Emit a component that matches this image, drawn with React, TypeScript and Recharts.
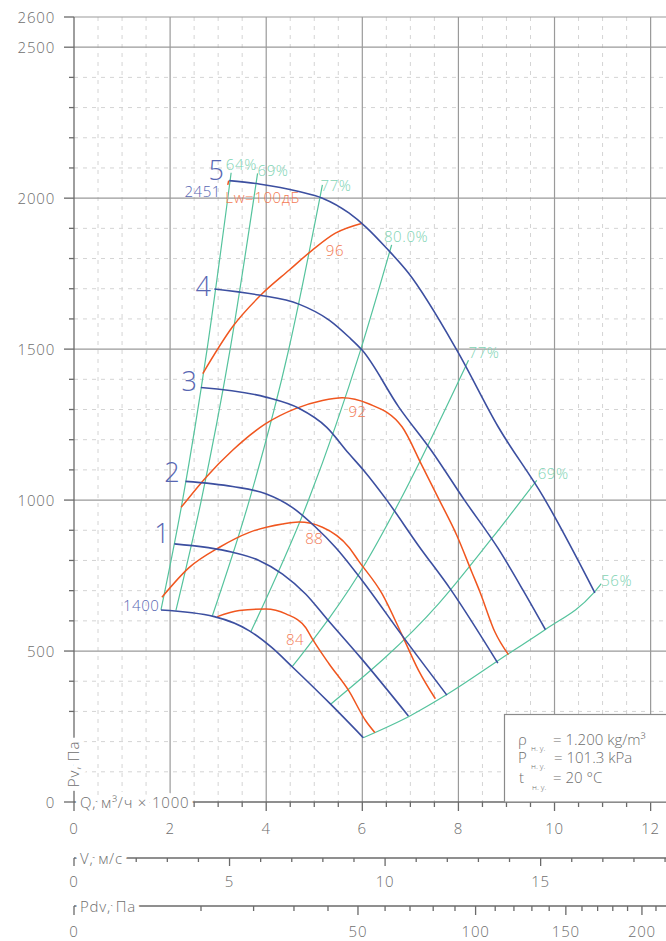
import React from 'react';
import { ComposedChart, Line, XAxis, YAxis, CartesianGrid, ReferenceDot } from 'recharts';

const FONT = '"Open Sans", "Liberation Sans", sans-serif';
const AXIS_COLOR = '#6a6a6a';
const TEXT_COLOR = '#6e6e6e';
const BLUE = '#3c4fa0';
const BLUE_TXT = '#5867b3';
const ORANGE = '#f0561f';
const ORANGE_TXT = '#f37b55';
const GREEN = '#55c39d';
const GREEN_TXT = '#7fd4b4';

// axis ids sort alphabetically in stacking order: Q nearest the plot, then V, then Pdv
const Q_AXIS = 'x1';
const V_AXIS = 'x2';
const PDV_AXIS = 'x3';

// ---- tick values ----
const qTicks = [0, 0.5, 1, 1.5, 2, 2.5, 3, 3.5, 4, 4.5, 5, 5.5, 6, 6.5, 7, 7.5, 8, 8.5, 9, 9.5, 10, 10.5, 11, 11.5, 12];
const qTickLabels = [0, 2, 4, 6, 8, 10, 12];
const vTicks = [0, 1, 2, 3, 4, 5, 6, 7, 8, 9, 10, 11, 12, 13, 14, 15, 16, 17, 18, 19];
const vTickLabels = [0, 5, 10, 15];
const pdvTicks = [0, 10, 20, 30, 40, 50, 60, 70, 80, 90, 100, 110, 120, 130, 140, 150, 160, 170, 180, 190, 200, 210];
const pdvTickLabels = [0, 50, 100, 150, 200];
const pTicks = [0, 100, 200, 300, 400, 500, 600, 700, 800, 900, 1000, 1100, 1200, 1300, 1400, 1500, 1600, 1700, 1800, 1900, 2000, 2100, 2200, 2300, 2400, 2500, 2600];
const pTickLabels = [0, 500, 1000, 1500, 2000, 2500, 2600];

const qDomain: [number, number] = [0, 12.32];
const vDomain: [number, number] = [0, 19.03];
const pdvDomain: [number, number] = [0, 217.3];
const pDomain: [number, number] = [0, 2600];

const qGridSolid = [2, 4, 6, 8, 10, 12];
const qGridDashed = qTicks.filter((v) => v !== 0 && !qGridSolid.includes(v));
const pGridSolid = [500, 1000, 1500, 2000, 2500, 2600];
const pGridDashed = pTicks.filter((v) => v !== 0 && !pGridSolid.includes(v));

// range extents of the secondary scales (invisible, only to give those axes a data extent)
const vExtent = [{ v: 0, p: 0 }, { v: 19, p: 0 }];
const pdvExtent = [{ pdv: 0, p: 0 }, { pdv: 217, p: 0 }];

// ---- fan curves [Q (x1000 m3/h), Pv (Pa)] ----
type Pt = [number, number];
const rpm1400: Pt[] = [[1.81, 636], [2.92, 614], [3.65, 567], [4.12, 511], [4.54, 448], [5.34, 324], [6.02, 213]];
const curve1: Pt[] = [[2.09, 855], [3.30, 827], [3.85, 800], [4.34, 755], [4.82, 689], [5.26, 607], [5.96, 479], [6.96, 285]];
const curve2: Pt[] = [[2.32, 1062], [3.30, 1045], [3.99, 1021], [4.54, 976], [5.03, 910], [5.44, 844], [6.0, 733], [6.83, 551], [7.76, 354]];
const curve3: Pt[] = [[2.64, 1373], [3.99, 1341], [4.68, 1304], [5.26, 1241], [5.72, 1154], [6.03, 1098], [6.49, 1004], [7.17, 849], [7.83, 706], [8.82, 460]];
const curve4: Pt[] = [[2.92, 1699], [3.85, 1679], [4.68, 1649], [5.31, 1596], [5.72, 1540], [6.0, 1496], [6.76, 1308], [7.45, 1161], [8.13, 999], [8.83, 839], [9.35, 700], [9.81, 571]];
const curve5: Pt[] = [[3.23, 2058], [3.85, 2047], [4.68, 2022], [5.17, 2000], [5.72, 1951], [6.07, 1905], [6.5, 1835], [6.96, 1752], [7.97, 1496], [8.83, 1242], [9.77, 1010], [10.84, 693]];

// ---- noise level curves (Lw, dB) ----
const lw84: Pt[] = [[2.98, 614], [3.44, 634], [3.99, 639], [4.41, 623], [4.82, 578], [4.96, 540], [5.31, 457], [5.72, 368], [6.07, 269], [6.26, 230]];
const lw88: Pt[] = [[1.83, 678], [2.40, 777], [3.02, 843], [3.65, 893], [4.34, 921], [4.68, 927], [5.17, 910], [5.72, 844], [5.93, 797], [6.41, 690], [6.83, 552], [7.17, 436], [7.52, 342]];
const lw92: Pt[] = [[2.23, 976], [2.75, 1076], [3.30, 1165], [3.99, 1253], [4.61, 1303], [5.17, 1330], [5.58, 1339], [6.13, 1319], [6.83, 1242], [7.24, 1115], [7.59, 1004], [7.97, 882], [8.28, 761], [8.45, 695], [8.76, 563], [9.04, 488]];
const lw96: Pt[] = [[2.68, 1419], [3.30, 1574], [3.92, 1684], [4.48, 1762], [4.96, 1828], [5.44, 1884], [6.0, 1917]];
const lw100: Pt[] = [[3.22, 2058], [3.20, 2044]];

// ---- efficiency lines ----
const eff64: Pt[] = [[1.81, 636], [2.26, 1000], [2.77, 1500], [3.27, 2084]];
const eff69a: Pt[] = [[2.12, 634], [2.65, 1000], [3.25, 1500], [3.82, 2082]];
const eff77a: Pt[] = [[2.88, 617], [3.65, 1000], [4.47, 1500], [5.17, 2044]];
const eff80: Pt[] = [[3.68, 564], [4.88, 1000], [5.97, 1500], [6.61, 1845]];
const eff77b: Pt[] = [[4.54, 448], [6.10, 800], [6.79, 1000], [8.21, 1463]];
const eff69b: Pt[] = [[5.34, 324], [7.59, 657], [8.69, 872], [9.63, 1065]];
const eff56: Pt[] = [[6.02, 213], [6.99, 285], [7.75, 355], [9.04, 491], [9.81, 571], [10.80, 690], [10.97, 723]];

const blueSeries = [rpm1400, curve1, curve2, curve3, curve4, curve5];
const orangeSeries = [lw84, lw88, lw92, lw96, lw100];
const greenSeries = [eff64, eff69a, eff77a, eff80, eff77b, eff69b, eff56];

// ---- annotation texts [Q, Pv, text] ----
type Lbl = [number, number, string];
const curveNumberLabels: Lbl[] = [[2.96, 2095, '5'], [2.69, 1712, '4'], [2.40, 1395, '3'], [2.04, 1093, '2'], [1.83, 891, '1']];
const rpmLabels: Lbl[] = [[3.06, 2024, '2451'], [1.78, 654, '1400']];
const effLabels: Lbl[] = [[3.16, 2113, '64%'], [3.82, 2092, '69%'], [5.13, 2044, '77%'], [6.45, 1875, '80.0%'], [8.21, 1489, '77%'], [9.65, 1091, '69%'], [10.97, 734, '56%']];
const noiseLabels: Lbl[] = [[3.15, 2003, 'Lw=100дБ'], [5.24, 1828, '96'], [5.71, 1296, '92'], [4.81, 873, '88'], [4.41, 539, '84']];

const toRows = (pts: Pt[]) => pts.map(([q, p]) => ({ q, p }));

const tickText = {
  fontFamily: FONT,
  fontSize: 15,
  fontWeight: 300,
  fill: TEXT_COLOR,
  letterSpacing: 0.8,
} as const;

const axisLineStyle = { stroke: AXIS_COLOR, strokeWidth: 1.3 };

const makeBottomTick = (majors: number[], labels: number[], majorLen: number, minorLen: number, labelDy: number) =>
  (props: any) => {
    const { x, y, payload } = props;
    const v = payload.value;
    const isMajor = majors.includes(v);
    return (
      <g>
        <line x1={x} x2={x} y1={y} y2={y + (isMajor ? majorLen : minorLen)} stroke={AXIS_COLOR} strokeWidth={1.3} />
        {labels.includes(v) && (
          <text x={x} y={y + labelDy} textAnchor="middle" dominantBaseline="central" {...tickText}>
            {v}
          </text>
        )}
      </g>
    );
  };

const renderYTick = (props: any) => {
  const { x, y, payload } = props;
  const v = payload.value;
  const major = pTickLabels.includes(v);
  return (
    <g>
      <line x1={x - (major ? 10 : 5)} x2={x} y1={y} y2={y} stroke={AXIS_COLOR} strokeWidth={1.3} />
      {major && (
        <text x={x - 19} y={y} textAnchor="end" dominantBaseline="central" {...tickText}>
          {v}
        </text>
      )}
    </g>
  );
};

const qTick = makeBottomTick(qTickLabels, qTickLabels, 9, 5, 26);
const vTick = makeBottomTick(vTickLabels, vTickLabels, 8, 4, 23);
const pdvTick = makeBottomTick(pdvTickLabels, pdvTickLabels, 9, 5, 25);

const makeAnnot = (text: string, color: string, size: number, anchor: 'start' | 'middle' | 'end') => (props: any) => {
  const vb = props.viewBox || { x: 0, y: 0 };
  return (
    <text
      x={vb.x}
      y={vb.y}
      textAnchor={anchor}
      dominantBaseline="central"
      fontFamily={FONT}
      fontWeight={300}
      fontSize={size}
      fill={color}
      letterSpacing={size > 20 ? 0 : 0.6}
    >
      {text}
    </text>
  );
};

const buildAnnots = (list: Lbl[], color: string, size: number, anchor: 'start' | 'middle' | 'end', key: string) =>
  list.map(([q, p, t], i) => (
    <ReferenceDot
      key={`${key}-${i}`}
      xAxisId={Q_AXIS}
      yAxisId="p"
      x={q}
      y={p}
      r={0}
      fill="none"
      stroke="none"
      ifOverflow="visible"
      label={makeAnnot(t, color, size, anchor)}
    />
  ));

const seriesLines = (list: Pt[][], color: string, width: number, key: string) =>
  list.map((pts, i) => (
    <Line
      key={`${key}-${i}`}
      xAxisId={Q_AXIS}
      yAxisId="p"
      data={toRows(pts)}
      dataKey="p"
      type="monotone"
      stroke={color}
      strokeWidth={width}
      dot={false}
      activeDot={false}
      isAnimationActive={false}
      legendType="none"
    />
  ));

const greenLines = seriesLines(greenSeries, GREEN, 1.2, 'g');
const orangeLines = seriesLines(orangeSeries, ORANGE, 1.5, 'o');
const blueLines = seriesLines(blueSeries, BLUE, 1.6, 'b');
const annotations = [
  ...buildAnnots(curveNumberLabels, BLUE_TXT, 27, 'middle', 'n'),
  ...buildAnnots(rpmLabels, BLUE_TXT, 15, 'end', 'r'),
  ...buildAnnots(effLabels, GREEN_TXT, 15, 'start', 'e'),
  ...buildAnnots(noiseLabels, ORANGE_TXT, 15, 'start', 'l'),
];

const chartMargin = { top: 17, right: 0, left: 14, bottom: 0 };

const haloStyle: React.CSSProperties = {
  paintOrder: 'stroke',
  stroke: '#ffffff',
  strokeWidth: 10,
  strokeLinejoin: 'round',
  letterSpacing: 0.8,
};

export default function App() {
  return (
    <div style={{ position: 'absolute', left: 0, top: 0, width: 666, height: 941, overflow: 'hidden', background: '#fff' }}>
      <ComposedChart width={666} height={941} margin={chartMargin}>
        <CartesianGrid
          xAxisId={Q_AXIS}
          yAxisId="p"
          horizontalValues={pGridDashed}
          verticalValues={qGridDashed}
          stroke="#d4d4d4"
          strokeDasharray="4 5"
        />
        <CartesianGrid
          xAxisId={Q_AXIS}
          yAxisId="p"
          horizontalValues={pGridSolid}
          verticalValues={qGridSolid}
          stroke="#9a9a9a"
          strokeWidth={1.2}
        />
        <XAxis
          xAxisId={Q_AXIS}
          dataKey="q"
          type="number"
          domain={qDomain}
          allowDataOverflow
          ticks={qTicks}
          interval={0}
          height={56}
          tickSize={0}
          tickMargin={0}
          tickLine={false}
          axisLine={axisLineStyle}
          tick={qTick}
        />
        <XAxis
          xAxisId={V_AXIS}
          dataKey="v"
          type="number"
          domain={vDomain}
          allowDataOverflow
          ticks={vTicks}
          interval={0}
          height={48}
          tickSize={0}
          tickMargin={0}
          tickLine={false}
          axisLine={axisLineStyle}
          tick={vTick}
        />
        <XAxis
          xAxisId={PDV_AXIS}
          dataKey="pdv"
          type="number"
          scale="sqrt"
          domain={pdvDomain}
          allowDataOverflow
          ticks={pdvTicks}
          interval={0}
          height={35}
          tickSize={0}
          tickMargin={0}
          tickLine={false}
          axisLine={axisLineStyle}
          tick={pdvTick}
        />
        <YAxis
          yAxisId="p"
          type="number"
          domain={pDomain}
          allowDataOverflow
          ticks={pTicks}
          interval={0}
          width={60}
          tickSize={0}
          tickMargin={0}
          tickLine={false}
          axisLine={axisLineStyle}
          tick={renderYTick}
        />
        <Line xAxisId={V_AXIS} yAxisId="p" data={vExtent} dataKey="p" stroke="none" dot={false} activeDot={false} isAnimationActive={false} legendType="none" />
        <Line xAxisId={PDV_AXIS} yAxisId="p" data={pdvExtent} dataKey="p" stroke="none" dot={false} activeDot={false} isAnimationActive={false} legendType="none" />
        {greenLines}
        {orangeLines}
        {blueLines}
        {annotations}
      </ComposedChart>
      <svg width={666} height={941} style={{ position: 'absolute', left: 0, top: 0, pointerEvents: 'none' }}>
        <g fontFamily={FONT} fontWeight={300} fill={TEXT_COLOR} fontSize={15}>
          <text x={80} y={802} dominantBaseline="central" style={haloStyle}>
            Q, м³/ч × 1000
          </text>
          <text x={80} y={858} dominantBaseline="central" style={haloStyle}>
            V, м/с
          </text>
          <text x={80} y={906} dominantBaseline="central" style={haloStyle}>
            Pdv, Па
          </text>
          <text x={73} y={764} textAnchor="middle" dominantBaseline="central" transform="rotate(-90 73 764)" style={haloStyle}>
            Pv, Па
          </text>
        </g>
        <rect x={504.5} y={714.5} width={200} height={87.5} fill="#fff" stroke="#8a8a8a" strokeWidth={1.2} />
        <g fontFamily={FONT} fontWeight={300} fill={TEXT_COLOR} fontSize={15}>
          <text x={518} y={745}>ρ</text>
          <text x={531} y={751} fontSize={8}>н. у.</text>
          <text x={553} y={745}>= 1.200 kg/m³</text>
          <text x={518} y={763}>P</text>
          <text x={531} y={769} fontSize={8}>н. у.</text>
          <text x={554} y={763}>= 101.3 kPa</text>
          <text x={519} y={783}>t</text>
          <text x={532} y={790} fontSize={8}>н. у.</text>
          <text x={553} y={783}>= 20 °C</text>
        </g>
      </svg>
    </div>
  );
}
